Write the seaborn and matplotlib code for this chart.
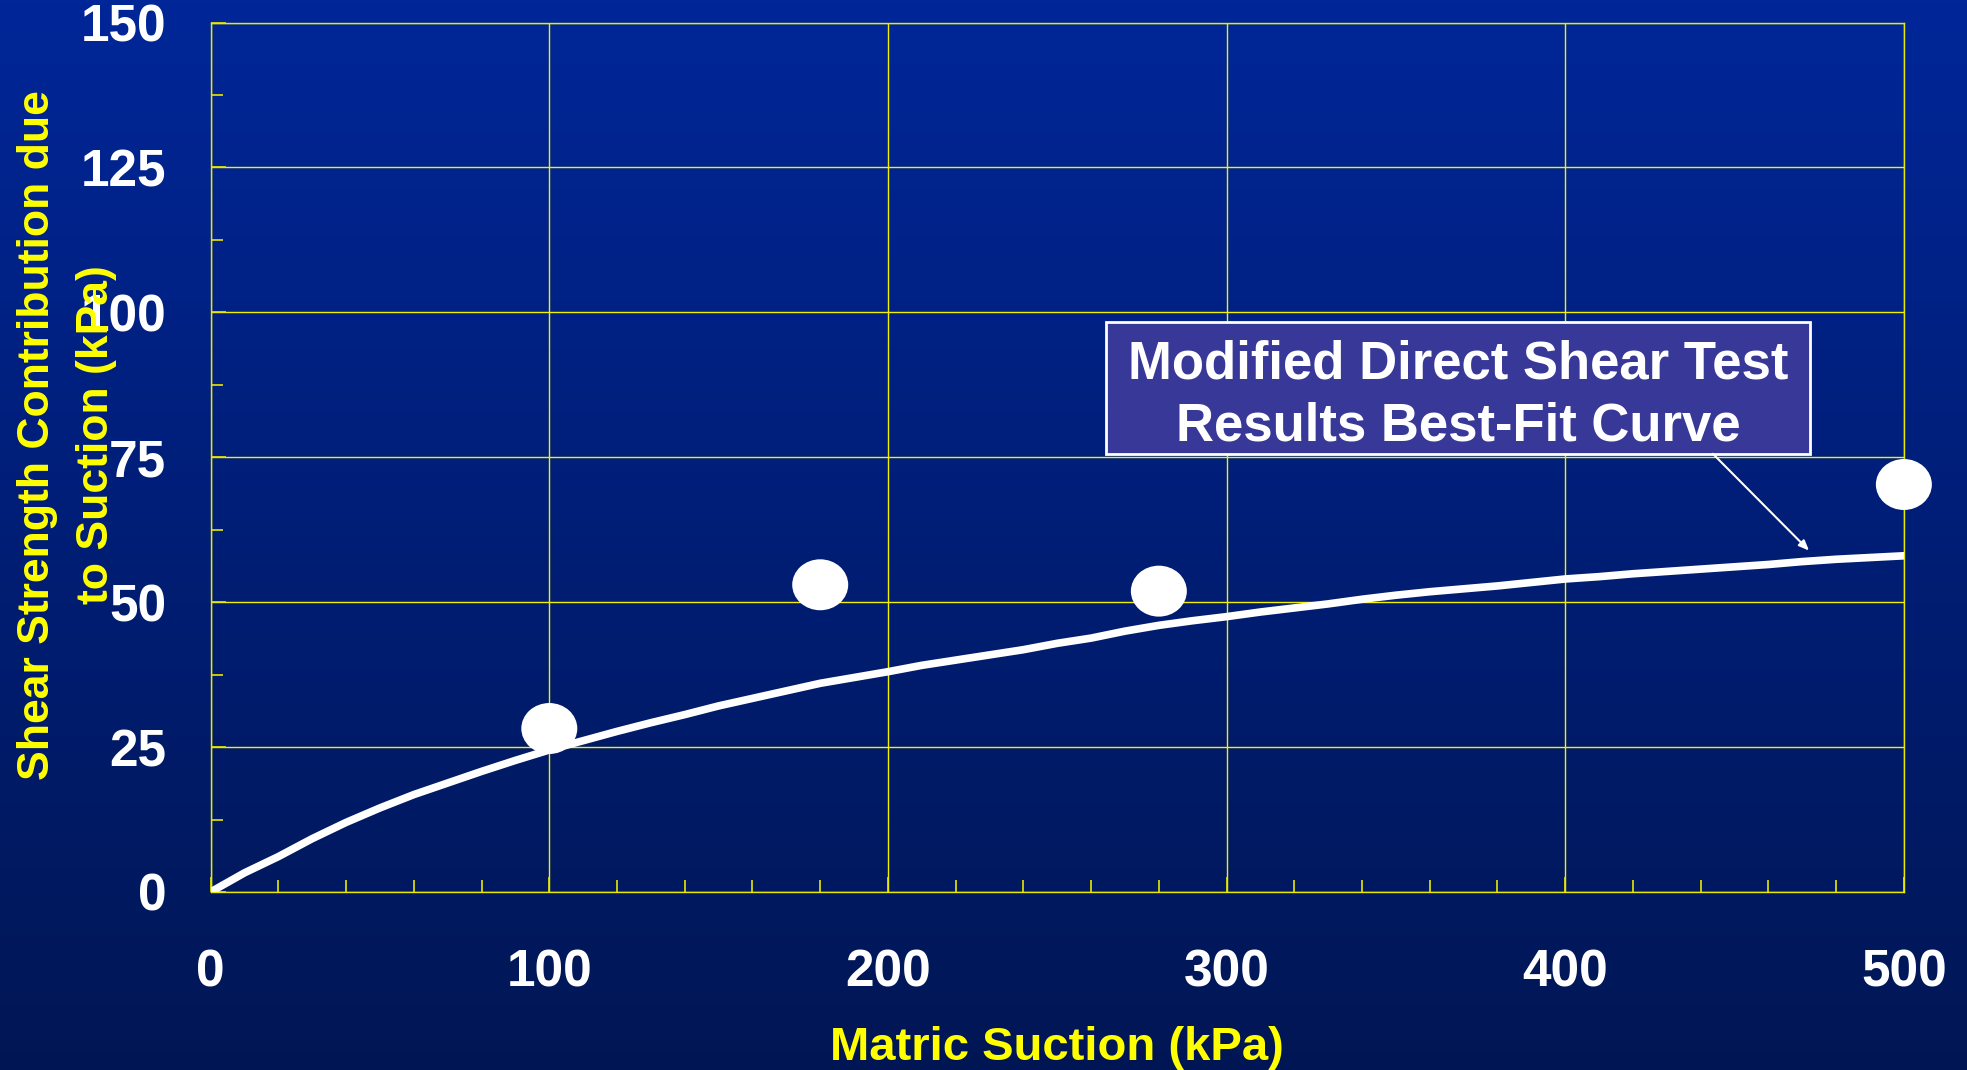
import numpy as np
import matplotlib
matplotlib.use("Agg")
import matplotlib.pyplot as plt
import seaborn as sns
from matplotlib.path import Path
from matplotlib.transforms import Affine2D
from matplotlib.patches import Rectangle
from matplotlib.ticker import MultipleLocator

# best-fit curve (kPa)
suction = [0, 10, 20, 30, 40, 50, 60, 70, 80, 90,
           100, 110, 120, 130, 140, 150, 160, 170, 180, 190,
           200, 210, 220, 230, 240, 250, 260, 270, 280, 290,
           300, 310, 320, 330, 340, 350, 360, 370, 380, 390,
           400, 410, 420, 430, 440, 450, 460, 470, 480, 490, 500]
strength_fit = [0.0, 3.3, 6.1, 9.2, 12.0, 14.5, 16.8, 18.8, 20.8, 22.7,
                24.5, 26.1, 27.7, 29.2, 30.6, 32.1, 33.4, 34.7, 36.0, 37.0,
                38.0, 39.1, 40.0, 40.9, 41.8, 42.9, 43.8, 45.0, 46.0, 46.8,
                47.5, 48.3, 49.0, 49.7, 50.5, 51.2, 51.8, 52.3, 52.8, 53.4,
                54.0, 54.4, 54.9, 55.3, 55.7, 56.1, 56.5, 57.0, 57.4, 57.7, 58.0]

# measured test points
test_suction = [100, 180, 280, 500]
test_strength = [28.2, 53.0, 51.9, 70.3]

x_ticks = [0, 100, 200, 300, 400, 500]
y_ticks = [0, 25, 50, 75, 100, 125, 150]

plt.rcParams['font.family'] = ['Liberation Sans', 'DejaVu Sans']
plt.rcParams['font.weight'] = 'bold'

fig = plt.figure(figsize=(19.67, 10.70), dpi=100)

# background gradient over the whole slide
bg = fig.add_axes([0, 0, 1, 1], zorder=-1)
top = np.array([0, 38, 152]) / 255
bottom = np.array([0, 22, 84]) / 255
t = np.linspace(0, 1, 256)[:, None, None]
grad = top * (1 - t) + bottom * t
bg.imshow(np.repeat(grad, 2, axis=1), aspect='auto', extent=[0, 1, 0, 1])
bg.axis('off')

ax = fig.add_axes([0.1071, 0.1664, 0.8608, 0.8125])
ax.patch.set_alpha(0)

sns.lineplot(x=suction, y=strength_fit, color='white', lw=5.5, ax=ax,
             solid_capstyle='round', zorder=3)

ell = Path.unit_circle().transformed(Affine2D().scale(1.0, 0.91))
sns.scatterplot(x=test_suction, y=test_strength, marker=ell, s=1625,
                color='white', edgecolor='none', ax=ax, zorder=4)
for c in ax.collections:
    c.set_clip_on(False)

ax.set_xlim(0, 500)
ax.set_ylim(0, 150)
ax.set_xticks(x_ticks)
ax.set_yticks(y_ticks)
ax.xaxis.set_minor_locator(MultipleLocator(20))
ax.yaxis.set_minor_locator(MultipleLocator(12.5))
ax.grid(True, which='major', color='#f0f000', lw=1.0)
ax.set_axisbelow(True)
for s in ax.spines.values():
    s.set_color('#e8e800')
    s.set_linewidth(1.0)

ax.tick_params(which='both', direction='in', color='#e8e800', width=1.2)
ax.tick_params(which='major', length=11)
ax.tick_params(which='minor', length=8.5)
ax.tick_params(axis='x', which='major', labelsize=37, labelcolor='white', pad=41)
ax.tick_params(axis='y', which='major', labelsize=37, labelcolor='white', pad=32)
for lab in ax.get_xticklabels() + ax.get_yticklabels():
    lab.set_fontweight('bold')

ax.set_xlabel('Matric Suction (kPa)', fontsize=34, color='yellow',
              fontweight='bold', va='center')
ax.xaxis.set_label_coords(0.5, -0.18)
ax.set_ylabel('Shear Strength Contribution due\nto Suction (kPa)', fontsize=32,
              color='yellow', fontweight='bold', va='center', ha='center',
              linespacing=1.55)
ax.yaxis.set_label_coords(-0.0847, 0.526)

# callout box
ax.add_patch(Rectangle((0.529, 0.504), 0.4155, 0.152, transform=ax.transAxes,
                       facecolor='#383898', edgecolor='white', lw=2, zorder=5))
ax.text(0.737, 0.571, 'Modified Direct Shear Test\nResults Best-Fit Curve',
        transform=ax.transAxes, ha='center', va='center', fontsize=38,
        color='white', fontweight='bold', zorder=6, linespacing=1.33)
ax.annotate('', xy=(472, 58.9), xytext=(443.6, 75.6),
            arrowprops=dict(arrowstyle='-|>,head_length=0.6,head_width=0.25',
                            color='white', lw=1.5, shrinkA=0, shrinkB=0),
            zorder=5)

fig.savefig('out.png', dpi=100)
